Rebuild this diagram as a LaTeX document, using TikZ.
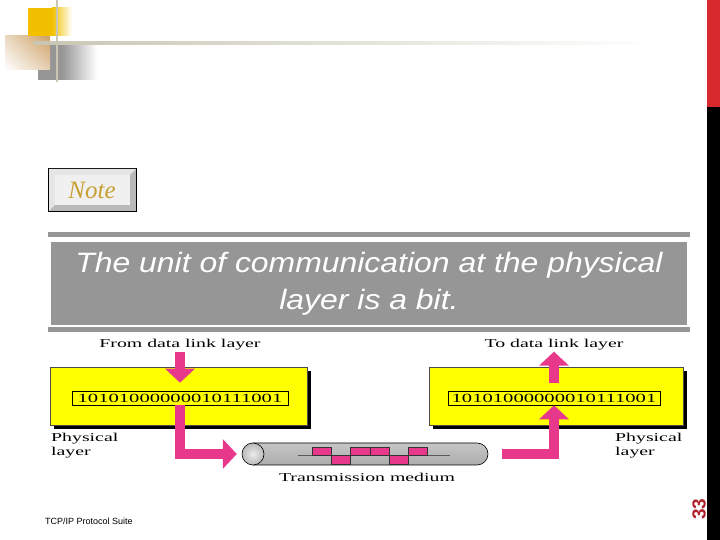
\documentclass[tikz,border=0pt]{standalone}
\usepackage{fontspec}
\setmainfont{Liberation Serif}
\newfontfamily\figfont[FakeStretch=1.65]{Liberation Serif}
\newfontfamily\slidefont[FakeStretch=1.14]{Liberation Sans}
\newfontfamily\footfont{Liberation Sans}
\usepackage{tikz}
\usetikzlibrary{positioning, arrows.meta, shadows, shadings}

\definecolor{figpink}{RGB}{232,56,140}
\definecolor{figyellow}{RGB}{255,255,0}
\definecolor{slidegray}{RGB}{150,150,150}
\definecolor{notegold}{RGB}{200,160,50}
\definecolor{pagered}{RGB}{175,35,45}
\definecolor{barred}{RGB}{215,40,45}
\definecolor{decoyellow}{RGB}{242,192,0}
\definecolor{decotan}{RGB}{205,160,100}
\definecolor{decoline}{RGB}{200,198,178}

\begin{document}
\begin{tikzpicture}[x=1pt, y=1pt,
        layernode/.style={draw=black!70, fill=figyellow, minimum height=58pt, inner sep=0pt,
            drop shadow={shadow xshift=4pt, shadow yshift=-4pt, fill=black, opacity=1}},
        bitsnode/.style={draw=black, line width=0.6pt, fill=figyellow, minimum height=14pt,
            inner sep=0pt, font=\figfont\fontsize{12.5}{14}\selectfont},
        labelnode/.style={inner sep=1pt, font=\figfont\fontsize{12}{14}\selectfont},
        fatarrow/.style={draw=figpink, line width=10pt, -{Triangle[width=29pt, length=14pt]}},
        pulse/.style={fill=figpink, draw=black!80, line width=0.6pt}
    ]
    \useasboundingbox (0,0) rectangle (720,540);
    \fill[white] (0,0) rectangle (720,540);
    % slide frame
    \fill[barred] (707,433) rectangle (720,540);
    \fill[black] (707,0) rectangle (720,433);
    \fill[slidegray] (38,460) rectangle (62,495);
    \shade[left color=slidegray, right color=white] (62,460) rectangle (97,495);
    \shade[upper left=decotan!40, upper right=decotan, lower left=white, lower right=decotan!50] (5,470) rectangle (50,504);
    \fill[decoyellow] (28,504) rectangle (52,532);
    \shade[left color=decoyellow, right color=white] (52,504) rectangle (72,532);
    \shade[left color=decoline, right color=white] (33,495.5) rectangle (660,498.5);
    \fill[decoline] (56,458) rectangle (58,540);
    % note button
    \fill[black] (48,328) rectangle (137,372);
    \fill[gray!55] (49,329) rectangle (136,371);
    \fill[gray!20] (49,371) -- (136,371) -- (130,365) -- (55,365) -- (55,335) -- (49,329) -- cycle;
    \fill[gray!12] (55,335) rectangle (130,365);
    \node[text=notegold, font=\itshape\fontsize{25}{28}\selectfont, inner sep=0pt] (notebtn) at (92,350) {Note};
    % statement
    \fill[slidegray] (48,303) rectangle (690,308);
    \fill[slidegray] (48,208) rectangle (690,213);
    \node[fill=slidegray, minimum width=636pt, minimum height=83pt, inner sep=0pt, align=center,
        text=white, font=\slidefont\itshape\fontsize{28}{37}\selectfont] (unitbox) at (369,256.5)
        {The unit of communication at the physical\\layer is a bit.};
    % physical layers
    \node[layernode, minimum width=257pt] (layerL) at (178.5,144) {};
    \node[layernode, minimum width=254pt] (layerR) at (556,144) {};
    \node[bitsnode, minimum width=216pt] (bitsL) at (180,142) {10101000000010111001};
    \node[bitsnode, minimum width=212pt] (bitsR) at (554,142) {10101000000010111001};
    \node[labelnode] (fromlbl) at (180,195) {From data link layer};
    \node[labelnode] (tolbl) at (554,195) {To data link layer};
    \node[labelnode, anchor=north west, align=left] (physL) at (50,108) {Physical\\layer};
    \node[labelnode, anchor=north west, align=left] (physR) at (614,108) {Physical\\layer};
    % medium
    \shade[top color=gray!45, middle color=gray!10, bottom color=gray!65, draw=black, line width=0.6pt]
        (253,97) -- (477,97) arc[start angle=90, end angle=-90, radius=11] -- (253,75) -- cycle;
    \shade[inner color=gray!15, outer color=gray!55, draw=black, line width=0.6pt] (253,86) circle (11);
    \node[minimum width=246pt, minimum height=22pt, inner sep=0pt] (tube) at (365,86) {};
    \draw[gray!70!black, line width=1pt] (298,84.3) -- (450,84.3);
    \draw[pulse] (312,84.3) rectangle (331,93);
    \draw[pulse] (331,84.3) rectangle (350,76);
    \draw[pulse] (350,84.3) rectangle (370,93);
    \draw[pulse] (370,84.3) rectangle (389,93);
    \draw[pulse] (389,84.3) rectangle (408,76);
    \draw[pulse] (408,84.3) rectangle (427,93);
    \node[labelnode] (medlbl) at (367,63) {Transmission medium};
    % arrows
    \draw[fatarrow] (fromlbl.south) -- ([yshift=8pt]bitsL.north);
    \draw[fatarrow] (bitsL.south) |- ([xshift=-5pt]tube.west);
    \draw[fatarrow] ([xshift=14pt]tube.east) -| (bitsR.south);
    \draw[fatarrow] ([yshift=8pt]bitsR.north) -- (tolbl.south);
    % footer
    \node[anchor=west, font=\footfont\fontsize{9}{10}\selectfont, inner sep=0pt] (footer) at (45,19) {TCP/IP Protocol Suite};
    \node[rotate=90, text=pagered, font=\footfont\bfseries\fontsize{19}{21}\selectfont, inner sep=0pt] (pagenum) at (699,31) {33};
\end{tikzpicture}
\end{document}
